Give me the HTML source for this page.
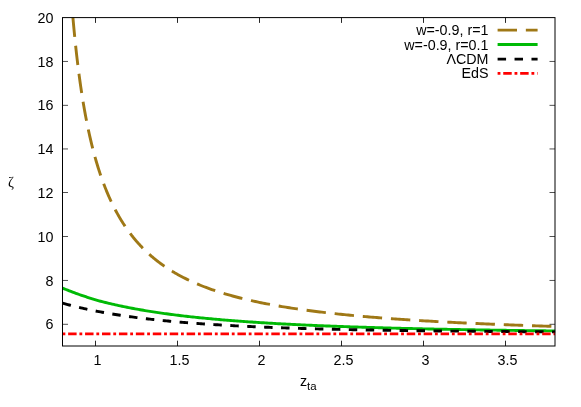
<!DOCTYPE html>
<html><head><meta charset="utf-8"><title>plot</title>
<style>html,body{margin:0;padding:0;background:#fff}svg{display:block;will-change:transform}</style></head>
<body>
<svg width="581" height="407" viewBox="0 0 581 407">
<g fill="none" stroke-width="2.9" stroke-linecap="butt" stroke-linejoin="round">
<path d="M72.92,17.60 L73.45,23.50 L73.97,29.16 L74.50,34.62 L75.02,39.87 L75.55,44.94 L76.08,49.82 L76.60,54.54 L77.13,59.10 L77.65,63.50 L78.18,67.76 L78.71,71.89 L79.23,75.88 L79.76,79.76 L80.28,83.51 L80.81,87.16 L81.34,90.70 L81.86,94.13 L82.39,97.47 L82.91,100.72 L83.44,103.89 L83.97,106.96 L84.49,109.96 L85.02,112.88 L85.54,115.72 L86.07,118.50 L86.60,121.20 L87.12,123.84 L87.65,126.42 L88.17,128.94 L88.70,131.40 L89.23,133.80 L89.75,136.15 L90.28,138.44 L90.80,140.69 L91.33,142.89 L91.86,145.04 L92.38,147.14 L92.91,149.21 L93.43,151.22 L93.96,153.20 L94.49,155.14 L95.01,157.04 L95.54,158.91 L96.06,160.73 L96.59,162.53 L97.12,164.28 L97.64,166.01 L98.17,167.70 L98.69,169.37 L99.22,171.00 L99.75,172.60 L100.27,174.18 L100.80,175.73 L101.32,177.25 L101.85,178.74 L102.38,180.21 L102.90,181.65 L103.43,183.07 L103.95,184.47 L104.48,185.84 L105.01,187.19 L105.53,188.52 L106.06,189.83 L106.58,191.12 L107.11,192.39 L107.64,193.63 L108.16,194.86 L108.69,196.07 L109.21,197.26 L109.74,198.44 L110.27,199.59 L110.79,200.73 L111.32,201.85 L111.84,202.96 L112.37,204.05 L112.90,205.12 L113.42,206.18 L113.95,207.22 L114.47,208.25 L115.00,209.26 L115.53,210.26 L116.05,211.25 L116.58,212.22 L117.10,213.18 L117.63,214.13 L118.16,215.06 L118.68,215.98 L119.21,216.89 L119.73,217.79 L120.26,218.67 L120.79,219.55 L121.31,220.41 L121.84,221.26 L122.36,222.10 L122.89,222.93 L123.42,223.75 L123.94,224.56 L124.47,225.36 L124.99,226.15 L125.52,226.93 L126.05,227.70 L126.57,228.46 L127.10,229.21 L127.62,229.96 L128.15,230.69 L128.68,231.41 L129.20,232.13 L129.73,232.84 L130.25,233.54 L130.78,234.23 L131.31,234.91 L131.83,235.59 L132.36,236.26 L132.88,236.92 L133.41,237.57 L133.94,238.22 L134.46,238.86 L134.99,239.49 L135.51,240.11 L136.04,240.73 L136.57,241.34 L137.09,241.94 L137.62,242.54 L138.14,243.13 L138.67,243.72 L139.20,244.29 L139.72,244.87 L140.25,245.43 L140.77,245.99 L141.30,246.55 L141.83,247.10 L142.35,247.64 L142.88,248.18 L143.40,248.71 L143.93,249.23 L144.46,249.75 L144.98,250.27 L145.51,250.78 L146.03,251.29 L146.56,251.79 L147.09,252.28 L147.61,252.77 L148.14,253.26 L148.66,253.74 L149.19,254.21 L149.72,254.68 L150.24,255.15 L150.77,255.61 L151.29,256.07 L151.82,256.52 L152.35,256.97 L152.87,257.42 L153.40,257.86 L153.92,258.29 L154.45,258.73 L154.98,259.15 L155.50,259.58 L156.03,260.00 L156.55,260.42 L157.08,260.83 L157.61,261.24 L158.13,261.64 L158.66,262.04 L159.18,262.44 L159.71,262.84 L160.24,263.23 L160.76,263.61 L161.29,264.00 L161.81,264.38 L162.34,264.75 L162.87,265.13 L163.39,265.50 L163.92,265.86 L164.44,266.23 L164.97,266.59 L165.50,266.95 L166.02,267.30 L166.55,267.65 L167.07,268.00 L167.60,268.35 L168.13,268.69 L168.65,269.03 L169.18,269.36 L169.70,269.70 L170.23,270.03 L170.76,270.36 L171.28,270.68 L171.81,271.01 L172.33,271.33 L172.86,271.64 L173.39,271.96 L173.91,272.27 L174.44,272.58 L174.96,272.89 L175.49,273.19 L176.02,273.50 L176.54,273.80 L177.07,274.09 L177.59,274.39 L179.49,275.44 L181.39,276.45 L183.28,277.44 L185.18,278.40 L187.08,279.34 L188.98,280.25 L190.87,281.13 L192.77,282.00 L194.67,282.84 L196.56,283.66 L198.46,284.46 L200.36,285.23 L202.25,285.99 L204.15,286.73 L206.05,287.46 L207.95,288.16 L209.84,288.85 L211.74,289.52 L213.64,290.18 L215.53,290.82 L217.43,291.45 L219.33,292.06 L221.22,292.66 L223.12,293.25 L225.02,293.82 L226.92,294.38 L228.81,294.93 L230.71,295.47 L232.61,295.99 L234.50,296.51 L236.40,297.01 L238.30,297.50 L240.19,297.99 L242.09,298.46 L243.99,298.92 L245.89,299.38 L247.78,299.82 L249.68,300.26 L251.58,300.69 L253.47,301.11 L255.37,301.52 L257.27,301.93 L259.17,302.32 L261.06,302.71 L262.96,303.09 L264.86,303.47 L266.75,303.84 L268.65,304.20 L270.55,304.55 L272.44,304.90 L274.34,305.24 L276.24,305.58 L278.14,305.91 L280.03,306.24 L281.93,306.56 L283.83,306.87 L285.72,307.18 L287.62,307.48 L289.52,307.78 L291.41,308.07 L293.31,308.36 L295.21,308.65 L297.11,308.93 L299.00,309.20 L300.90,309.47 L302.80,309.74 L304.69,310.00 L306.59,310.26 L308.49,310.51 L310.38,310.76 L312.28,311.00 L314.18,311.25 L316.08,311.49 L317.97,311.72 L319.87,311.95 L321.77,312.18 L323.66,312.40 L325.56,312.62 L327.46,312.84 L329.35,313.06 L331.25,313.27 L333.15,313.48 L335.05,313.68 L336.94,313.89 L338.84,314.09 L340.74,314.28 L342.63,314.48 L344.53,314.67 L346.43,314.86 L348.32,315.04 L350.22,315.23 L352.12,315.41 L354.02,315.59 L355.91,315.76 L357.81,315.94 L359.71,316.11 L361.60,316.28 L363.50,316.45 L365.40,316.61 L367.30,316.78 L369.19,316.94 L371.09,317.10 L372.99,317.25 L374.88,317.41 L376.78,317.56 L378.68,317.71 L380.57,317.86 L382.47,318.01 L384.37,318.15 L386.27,318.30 L388.16,318.44 L390.06,318.58 L391.96,318.72 L393.85,318.85 L395.75,318.99 L397.65,319.12 L399.54,319.25 L401.44,319.38 L403.34,319.51 L405.24,319.64 L407.13,319.77 L409.03,319.89 L410.93,320.01 L412.82,320.13 L414.72,320.25 L416.62,320.37 L418.51,320.49 L420.41,320.61 L422.31,320.72 L424.21,320.84 L426.10,320.95 L428.00,321.06 L429.90,321.17 L431.79,321.28 L433.69,321.38 L435.59,321.49 L437.48,321.60 L439.38,321.70 L441.28,321.80 L443.18,321.90 L445.07,322.01 L446.97,322.11 L448.87,322.20 L450.76,322.30 L452.66,322.40 L454.56,322.49 L456.46,322.59 L458.35,322.68 L460.25,322.77 L462.15,322.87 L464.04,322.96 L465.94,323.05 L467.84,323.14 L469.73,323.22 L471.63,323.31 L473.53,323.40 L475.43,323.48 L477.32,323.57 L479.22,323.65 L481.12,323.73 L483.01,323.82 L484.91,323.90 L486.81,323.98 L488.70,324.06 L490.60,324.14 L492.50,324.22 L494.40,324.29 L496.29,324.37 L498.19,324.45 L500.09,324.52 L501.98,324.60 L503.88,324.67 L505.78,324.74 L507.67,324.82 L509.57,324.89 L511.47,324.96 L513.37,325.03 L515.26,325.10 L517.16,325.17 L519.06,325.24 L520.95,325.31 L522.85,325.37 L524.75,325.44 L526.64,325.51 L528.54,325.57 L530.44,325.64 L532.34,325.70 L534.23,325.77 L536.13,325.83 L538.03,325.89 L539.92,325.95 L541.82,326.02 L543.72,326.08 L545.61,326.14 L547.51,326.20 L549.41,326.26 L551.31,326.32 L553.20,326.38 L555.10,326.43" stroke="#9f7816" stroke-dasharray="19.4 8.85"/>
<path d="M62.70,288.13 L64.35,288.82 L65.99,289.50 L67.64,290.17 L69.29,290.82 L70.93,291.46 L72.58,292.09 L74.23,292.71 L75.87,293.31 L77.52,293.91 L79.17,294.50 L80.82,295.07 L82.46,295.63 L84.11,296.19 L85.76,296.73 L87.40,297.27 L89.05,297.80 L90.70,298.31 L92.34,298.82 L93.99,299.32 L95.64,299.81 L97.28,300.30 L98.93,300.77 L100.58,301.24 L102.22,301.67 L103.87,302.09 L105.52,302.50 L107.16,302.91 L108.81,303.31 L110.46,303.70 L112.10,304.08 L113.75,304.46 L115.40,304.83 L117.05,305.20 L118.69,305.56 L120.34,305.91 L121.99,306.26 L123.63,306.60 L125.28,306.93 L126.93,307.26 L128.57,307.59 L130.22,307.91 L131.87,308.22 L133.51,308.53 L135.16,308.84 L136.81,309.14 L138.45,309.43 L140.10,309.72 L141.75,310.01 L143.39,310.29 L145.04,310.56 L146.69,310.84 L148.33,311.10 L149.98,311.37 L151.63,311.63 L153.28,311.88 L154.92,312.14 L156.57,312.38 L158.22,312.63 L159.86,312.87 L161.51,313.10 L163.16,313.34 L164.80,313.57 L166.45,313.79 L168.10,314.02 L169.74,314.24 L171.39,314.45 L173.04,314.67 L174.68,314.88 L176.33,315.08 L177.98,315.29 L179.62,315.49 L181.27,315.69 L182.92,315.88 L184.56,316.07 L186.21,316.26 L187.86,316.45 L189.51,316.64 L191.15,316.82 L192.80,317.00 L194.45,317.17 L196.09,317.35 L197.74,317.52 L199.39,317.69 L201.03,317.86 L202.68,318.02 L204.33,318.18 L205.97,318.34 L207.62,318.50 L209.27,318.66 L210.91,318.81 L212.56,318.96 L214.21,319.11 L215.85,319.26 L217.50,319.41 L219.15,319.55 L220.79,319.69 L222.44,319.84 L224.09,319.97 L225.74,320.11 L227.38,320.24 L229.03,320.38 L230.68,320.51 L232.32,320.64 L233.97,320.77 L235.62,320.89 L237.26,321.02 L238.91,321.14 L240.56,321.26 L242.20,321.38 L243.85,321.50 L245.50,321.62 L247.14,321.73 L248.79,321.85 L250.44,321.96 L252.08,322.07 L253.73,322.18 L255.38,322.29 L257.03,322.40 L258.67,322.50 L260.32,322.61 L261.97,322.71 L263.61,322.81 L265.26,322.92 L266.91,323.02 L268.55,323.11 L270.20,323.21 L271.85,323.31 L273.49,323.40 L275.14,323.50 L276.79,323.59 L278.43,323.68 L280.08,323.77 L281.73,323.86 L283.37,323.95 L285.02,324.04 L286.67,324.12 L288.31,324.21 L289.96,324.29 L291.61,324.38 L293.26,324.46 L294.90,324.54 L296.55,324.62 L298.20,324.70 L299.84,324.78 L301.49,324.86 L303.14,324.94 L304.78,325.01 L306.43,325.09 L308.08,325.16 L309.72,325.24 L311.37,325.31 L313.02,325.38 L314.66,325.45 L316.31,325.52 L317.96,325.59 L319.60,325.66 L321.25,325.73 L322.90,325.80 L324.54,325.86 L326.19,325.93 L327.84,326.00 L329.49,326.06 L331.13,326.12 L332.78,326.19 L334.43,326.25 L336.07,326.31 L337.72,326.37 L339.37,326.43 L341.01,326.49 L342.66,326.55 L344.31,326.61 L345.95,326.67 L347.60,326.73 L349.25,326.79 L350.89,326.84 L352.54,326.90 L354.19,326.95 L355.83,327.01 L357.48,327.06 L359.13,327.11 L360.77,327.17 L362.42,327.22 L364.07,327.27 L365.72,327.32 L367.36,327.37 L369.01,327.42 L370.66,327.47 L372.30,327.52 L373.95,327.57 L375.60,327.62 L377.24,327.67 L378.89,327.72 L380.54,327.76 L382.18,327.81 L383.83,327.86 L385.48,327.90 L387.12,327.95 L388.77,327.99 L390.42,328.04 L392.06,328.08 L393.71,328.12 L395.36,328.17 L397.01,328.21 L398.65,328.25 L400.30,328.29 L401.95,328.33 L403.59,328.37 L405.24,328.42 L406.89,328.46 L408.53,328.50 L410.18,328.54 L411.83,328.57 L413.47,328.61 L415.12,328.65 L416.77,328.69 L418.41,328.73 L420.06,328.76 L421.71,328.80 L423.35,328.84 L425.00,328.87 L426.65,328.91 L428.29,328.95 L429.94,328.98 L431.59,329.02 L433.24,329.05 L434.88,329.08 L436.53,329.12 L438.18,329.15 L439.82,329.19 L441.47,329.22 L443.12,329.25 L444.76,329.28 L446.41,329.32 L448.06,329.35 L449.70,329.38 L451.35,329.41 L453.00,329.44 L454.64,329.47 L456.29,329.50 L457.94,329.53 L459.58,329.56 L461.23,329.59 L462.88,329.62 L464.52,329.65 L466.17,329.68 L467.82,329.71 L469.47,329.74 L471.11,329.77 L472.76,329.80 L474.41,329.82 L476.05,329.85 L477.70,329.88 L479.35,329.90 L480.99,329.93 L482.64,329.96 L484.29,329.98 L485.93,330.01 L487.58,330.04 L489.23,330.06 L490.87,330.09 L492.52,330.11 L494.17,330.14 L495.81,330.16 L497.46,330.19 L499.11,330.21 L500.75,330.24 L502.40,330.26 L504.05,330.28 L505.70,330.31 L507.34,330.33 L508.99,330.35 L510.64,330.38 L512.28,330.40 L513.93,330.42 L515.58,330.45 L517.22,330.47 L518.87,330.49 L520.52,330.51 L522.16,330.53 L523.81,330.56 L525.46,330.58 L527.10,330.60 L528.75,330.62 L530.40,330.64 L532.04,330.66 L533.69,330.68 L535.34,330.70 L536.98,330.72 L538.63,330.74 L540.28,330.76 L541.93,330.78 L543.57,330.80 L545.22,330.82 L546.87,330.84 L548.51,330.86 L550.16,330.88 L551.81,330.90 L553.45,330.92 L555.10,330.94" stroke="#00ba06"/>
<path d="M62.70,303.20 L64.35,303.66 L65.99,304.12 L67.64,304.56 L69.29,304.99 L70.93,305.42 L72.58,305.84 L74.23,306.25 L75.87,306.66 L77.52,307.06 L79.17,307.45 L80.82,307.83 L82.46,308.21 L84.11,308.58 L85.76,308.94 L87.40,309.30 L89.05,309.65 L90.70,309.99 L92.34,310.33 L93.99,310.67 L95.64,310.99 L97.28,311.31 L98.93,311.63 L100.58,311.94 L102.22,312.25 L103.87,312.54 L105.52,312.84 L107.16,313.13 L108.81,313.41 L110.46,313.69 L112.10,313.97 L113.75,314.24 L115.40,314.50 L117.05,314.77 L118.69,315.02 L120.34,315.28 L121.99,315.52 L123.63,315.77 L125.28,316.01 L126.93,316.25 L128.57,316.48 L130.22,316.71 L131.87,316.93 L133.51,317.15 L135.16,317.37 L136.81,317.58 L138.45,317.79 L140.10,318.00 L141.75,318.20 L143.39,318.41 L145.04,318.60 L146.69,318.80 L148.33,318.99 L149.98,319.18 L151.63,319.36 L153.28,319.54 L154.92,319.72 L156.57,319.90 L158.22,320.07 L159.86,320.24 L161.51,320.41 L163.16,320.57 L164.80,320.74 L166.45,320.90 L168.10,321.06 L169.74,321.21 L171.39,321.36 L173.04,321.51 L174.68,321.66 L176.33,321.81 L177.98,321.95 L179.62,322.09 L181.27,322.23 L182.92,322.37 L184.56,322.51 L186.21,322.64 L187.86,322.77 L189.51,322.90 L191.15,323.03 L192.80,323.15 L194.45,323.27 L196.09,323.40 L197.74,323.51 L199.39,323.63 L201.03,323.75 L202.68,323.86 L204.33,323.98 L205.97,324.09 L207.62,324.20 L209.27,324.30 L210.91,324.41 L212.56,324.52 L214.21,324.62 L215.85,324.72 L217.50,324.82 L219.15,324.92 L220.79,325.02 L222.44,325.11 L224.09,325.21 L225.74,325.30 L227.38,325.39 L229.03,325.48 L230.68,325.57 L232.32,325.66 L233.97,325.75 L235.62,325.83 L237.26,325.92 L238.91,326.00 L240.56,326.08 L242.20,326.16 L243.85,326.24 L245.50,326.32 L247.14,326.40 L248.79,326.47 L250.44,326.55 L252.08,326.62 L253.73,326.70 L255.38,326.77 L257.03,326.84 L258.67,326.91 L260.32,326.98 L261.97,327.05 L263.61,327.11 L265.26,327.18 L266.91,327.25 L268.55,327.31 L270.20,327.37 L271.85,327.44 L273.49,327.50 L275.14,327.56 L276.79,327.62 L278.43,327.68 L280.08,327.74 L281.73,327.80 L283.37,327.85 L285.02,327.91 L286.67,327.97 L288.31,328.02 L289.96,328.07 L291.61,328.13 L293.26,328.18 L294.90,328.23 L296.55,328.28 L298.20,328.34 L299.84,328.39 L301.49,328.43 L303.14,328.48 L304.78,328.53 L306.43,328.58 L308.08,328.63 L309.72,328.67 L311.37,328.72 L313.02,328.76 L314.66,328.81 L316.31,328.85 L317.96,328.90 L319.60,328.94 L321.25,328.98 L322.90,329.02 L324.54,329.06 L326.19,329.10 L327.84,329.14 L329.49,329.18 L331.13,329.22 L332.78,329.26 L334.43,329.30 L336.07,329.34 L337.72,329.38 L339.37,329.41 L341.01,329.45 L342.66,329.48 L344.31,329.52 L345.95,329.55 L347.60,329.59 L349.25,329.62 L350.89,329.66 L352.54,329.69 L354.19,329.72 L355.83,329.76 L357.48,329.79 L359.13,329.82 L360.77,329.85 L362.42,329.88 L364.07,329.91 L365.72,329.94 L367.36,329.97 L369.01,330.00 L370.66,330.03 L372.30,330.06 L373.95,330.09 L375.60,330.12 L377.24,330.14 L378.89,330.17 L380.54,330.20 L382.18,330.23 L383.83,330.25 L385.48,330.28 L387.12,330.30 L388.77,330.33 L390.42,330.35 L392.06,330.38 L393.71,330.40 L395.36,330.43 L397.01,330.45 L398.65,330.48 L400.30,330.50 L401.95,330.52 L403.59,330.55 L405.24,330.57 L406.89,330.59 L408.53,330.61 L410.18,330.63 L411.83,330.66 L413.47,330.68 L415.12,330.70 L416.77,330.72 L418.41,330.74 L420.06,330.76 L421.71,330.78 L423.35,330.80 L425.00,330.82 L426.65,330.84 L428.29,330.86 L429.94,330.88 L431.59,330.90 L433.24,330.92 L434.88,330.93 L436.53,330.95 L438.18,330.97 L439.82,330.99 L441.47,331.01 L443.12,331.02 L444.76,331.04 L446.41,331.06 L448.06,331.08 L449.70,331.09 L451.35,331.11 L453.00,331.12 L454.64,331.14 L456.29,331.16 L457.94,331.17 L459.58,331.19 L461.23,331.20 L462.88,331.22 L464.52,331.23 L466.17,331.25 L467.82,331.26 L469.47,331.28 L471.11,331.29 L472.76,331.31 L474.41,331.32 L476.05,331.34 L477.70,331.35 L479.35,331.36 L480.99,331.38 L482.64,331.39 L484.29,331.40 L485.93,331.42 L487.58,331.43 L489.23,331.44 L490.87,331.45 L492.52,331.47 L494.17,331.48 L495.81,331.49 L497.46,331.50 L499.11,331.52 L500.75,331.53 L502.40,331.54 L504.05,331.55 L505.70,331.56 L507.34,331.57 L508.99,331.59 L510.64,331.60 L512.28,331.61 L513.93,331.62 L515.58,331.63 L517.22,331.64 L518.87,331.65 L520.52,331.66 L522.16,331.67 L523.81,331.68 L525.46,331.69 L527.10,331.70 L528.75,331.71 L530.40,331.72 L532.04,331.73 L533.69,331.74 L535.34,331.75 L536.98,331.76 L538.63,331.77 L540.28,331.78 L541.93,331.79 L543.57,331.80 L545.22,331.81 L546.87,331.82 L548.51,331.83 L550.16,331.83 L551.81,331.84 L553.45,331.85 L555.10,331.86" stroke="#000" stroke-dasharray="8.47 8.47"/>
<path d="M62.5,333.85 H555.0" stroke="#ff0000" stroke-dasharray="2.82 2.82 8.47 2.82"/>
<path d="M497.6,30.1 H537.6" stroke="#9f7816" stroke-dasharray="19.4 8.85"/>
<path d="M497.6,44.5 H537.6" stroke="#00ba06"/>
<path d="M497.6,59.1 H537.6" stroke="#000" stroke-dasharray="8.47 8.47"/>
<path d="M497.6,73.4 H537.6" stroke="#ff0000" stroke-dasharray="2.82 2.82 8.47 2.82"/>
</g>
<g stroke="#000" stroke-width="1" fill="none">
<rect x="62.5" y="17.6" width="492.5" height="328.4"/>
<path stroke-width="0.85" d="M95.50,346.0 v-5.3 M95.50,17.6 v5.3"/>
<path stroke-width="0.85" d="M177.50,346.0 v-5.3 M177.50,17.6 v5.3"/>
<path stroke-width="0.85" d="M259.50,346.0 v-5.3 M259.50,17.6 v5.3"/>
<path stroke-width="0.85" d="M341.50,346.0 v-5.3 M341.50,17.6 v5.3"/>
<path stroke-width="0.85" d="M423.50,346.0 v-5.3 M423.50,17.6 v5.3"/>
<path stroke-width="0.85" d="M505.50,346.0 v-5.3 M505.50,17.6 v5.3"/>
<path stroke-width="0.68" d="M62.5,61.45 h5.5 M555.0,61.45 h-5.5"/>
<path stroke-width="0.68" d="M62.5,105.35 h5.5 M555.0,105.35 h-5.5"/>
<path stroke-width="0.68" d="M62.5,148.95 h5.5 M555.0,148.95 h-5.5"/>
<path stroke-width="0.68" d="M62.5,192.50 h5.5 M555.0,192.50 h-5.5"/>
<path stroke-width="0.68" d="M62.5,236.50 h5.5 M555.0,236.50 h-5.5"/>
<path stroke-width="0.68" d="M62.5,280.45 h5.5 M555.0,280.45 h-5.5"/>
<path stroke-width="0.68" d="M62.5,324.30 h5.5 M555.0,324.30 h-5.5"/>
</g>
<g font-family="'Liberation Sans', sans-serif" font-size="14.3px" fill="#000" stroke="none">
<text x="53.4" y="329.4" text-anchor="end">6</text>
<text x="53.4" y="285.6" text-anchor="end">8</text>
<text x="53.4" y="241.8" text-anchor="end">10</text>
<text x="53.4" y="198.0" text-anchor="end">12</text>
<text x="53.4" y="154.2" text-anchor="end">14</text>
<text x="53.4" y="110.4" text-anchor="end">16</text>
<text x="53.4" y="66.6" text-anchor="end">18</text>
<text x="53.4" y="22.8" text-anchor="end">20</text>
<text x="97.4" y="365.4" text-anchor="middle">1</text>
<text x="179.4" y="365.4" text-anchor="middle">1.5</text>
<text x="261.4" y="365.4" text-anchor="middle">2</text>
<text x="343.4" y="365.4" text-anchor="middle">2.5</text>
<text x="425.4" y="365.4" text-anchor="middle">3</text>
<text x="507.4" y="365.4" text-anchor="middle">3.5</text>
<text x="488.5" y="34.8" text-anchor="end">w=-0.9, r=1</text>
<text x="488.5" y="49.6" text-anchor="end">w=-0.9, r=0.1</text>
<text x="488.5" y="64.05" text-anchor="end">&#923;CDM</text>
<text x="488.5" y="78.35" text-anchor="end">EdS</text>
<text x="299.9" y="385.7">z<tspan font-size="11.4px" dy="4.1">ta</tspan></text>
<text x="8" y="187" font-family="'Liberation Serif', serif">&#950;</text>
</g>
</svg>
</body></html>
